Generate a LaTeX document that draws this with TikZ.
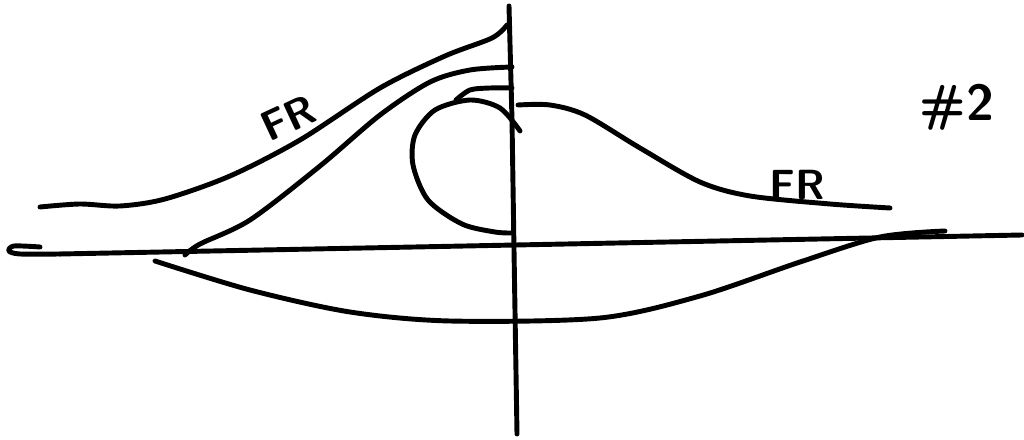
\documentclass[tikz,border=0pt]{standalone}
\usepackage{tikz}

\begin{document}
\begin{tikzpicture}[x=0.01cm,y=-0.01cm,
  pen/.style={line width=1.4pt,line cap=round,line join=round},
  lbl/.style={font=\sffamily\bfseries\large,inner sep=1pt}]
\useasboundingbox (0,0) rectangle (1024,440);
% axes
\draw[pen] (509,6) -- (512,120) -- (514,250) -- (517,434);
\draw[pen] plot[smooth] coordinates {(40,247) (14,246) (9,251) (20,254) (60,254)};
\draw[pen] (60,254) -- (1022,235);
% upper curves on the left
\draw[pen] plot[smooth] coordinates {(40,207) (80,204) (120,206) (165,199) (230,176) (300,140) (380,88) (445,56) (492,38) (507,25)};
\draw[pen] plot[smooth] coordinates {(185,255) (200,244) (250,220) (320,166) (380,115) (430,82) (470,70) (512,67)};
\draw[pen] plot[smooth] coordinates {(456,100) (470,90) (490,88) (512,88)};
% loop
\draw[pen] plot[smooth] coordinates {(520,131) (500,108) (470,100) (435,110) (415,135) (413,165) (428,200) (462,224) (495,232) (513,233)};
% bump on the right
\draw[pen] plot[smooth] coordinates {(518,105) (550,105) (585,115) (640,148) (700,182) (750,196) (830,204) (890,208)};
% lower curve
\draw[pen] plot[smooth] coordinates {(155,261) (250,290) (350,312) (450,321) (600,318) (700,296) (800,262) (880,237) (945,231)};
% labels
\node[lbl,rotate=25] (frl) at (288,118) {FR};
\node[lbl] (frr) at (797,185) {FR};
\node[lbl,font=\sffamily\bfseries\Large] (num) at (957,107) {\#2};
\end{tikzpicture}
\end{document}
